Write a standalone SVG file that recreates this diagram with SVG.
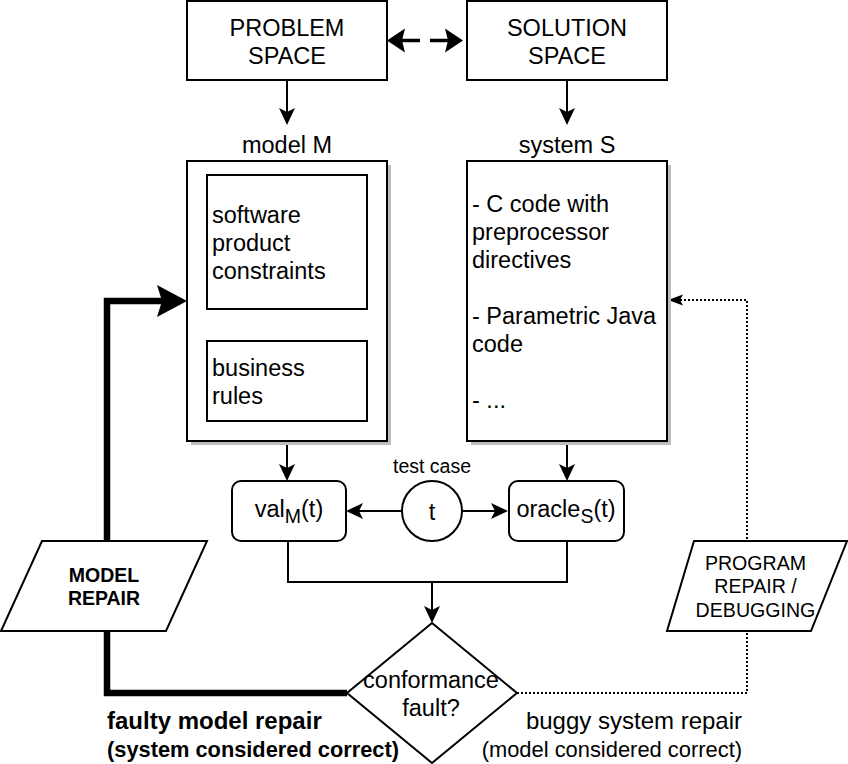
<svg xmlns="http://www.w3.org/2000/svg" width="848" height="764" viewBox="0 0 848 764">
<style>
  text { font-family: "Liberation Sans", Arial, sans-serif; fill: #000; }
  .t { font-size: 23.5px; }
  .box { fill: #fff; stroke: #000; stroke-width: 2; }
  .shadow { fill: #bdbdbd; stroke: none; }
  .ln { fill: none; stroke: #000; stroke-width: 2; }
</style>
<defs>
  <marker id="arr" markerUnits="userSpaceOnUse" orient="auto" refX="14" refY="0" markerWidth="20" markerHeight="20" overflow="visible">
    <path d="M0,-8 L17,0 L0,8 L4,0 Z" fill="#000"/>
  </marker>
  <marker id="arrBig" markerUnits="userSpaceOnUse" orient="auto-start-reverse" refX="3" refY="0" markerWidth="20" markerHeight="26" overflow="visible">
    <path d="M0,-12 L18,0 L0,12 L3,0 Z" fill="#000"/>
  </marker>
  <marker id="arrThick" markerUnits="userSpaceOnUse" orient="auto" refX="24" refY="0" markerWidth="32" markerHeight="34" overflow="visible">
    <path d="M0,-16 L30,0 L0,16 L5,0 Z" fill="#000"/>
  </marker>
  <marker id="arrDot" markerUnits="userSpaceOnUse" orient="auto" refX="12" refY="0" markerWidth="16" markerHeight="12" overflow="visible">
    <path d="M0,-5.5 L15,0 L0,5.5 L3,0 Z" fill="#000"/>
  </marker>
</defs>

<g id="connectors">
  <line x1="402" y1="40.5" x2="448" y2="40.5" stroke="#000" stroke-width="3.5" stroke-dasharray="18 10" marker-start="url(#arrBig)" marker-end="url(#arrBig)"/>
  <line class="ln" x1="287" y1="80" x2="287" y2="122" marker-end="url(#arr)"/>
  <line class="ln" x1="567" y1="80" x2="567" y2="122" marker-end="url(#arr)"/>
  <line class="ln" x1="287" y1="441" x2="287" y2="478" marker-end="url(#arr)"/>
  <line class="ln" x1="567" y1="441" x2="567" y2="478" marker-end="url(#arr)"/>
  <line class="ln" x1="402" y1="511" x2="349" y2="511" marker-end="url(#arr)"/>
  <line class="ln" x1="462" y1="511" x2="505" y2="511" marker-end="url(#arr)"/>
  <path class="ln" d="M288,541 V582 H567 V541"/>
  <line class="ln" x1="432" y1="582" x2="432" y2="620" marker-end="url(#arr)"/>
  <path d="M347,693 H107 V301 H181" fill="none" stroke="#000" stroke-width="6.5" marker-end="url(#arrThick)"/>
  <path d="M517,693 H747 V300 H671" fill="none" stroke="#000" stroke-width="2" stroke-dasharray="2 2" marker-end="url(#arrDot)"/>
</g>

<g id="problem-space">
  <rect class="box" x="187" y="1" width="200" height="79"/>
  <text class="t" text-anchor="middle" x="287" y="36">PROBLEM</text>
  <text class="t" text-anchor="middle" x="287" y="64">SPACE</text>
</g>
<g id="solution-space">
  <rect class="box" x="467" y="1" width="200" height="79"/>
  <text class="t" text-anchor="middle" x="567" y="36">SOLUTION</text>
  <text class="t" text-anchor="middle" x="567" y="64">SPACE</text>
</g>

<g id="model-label"><text class="t" text-anchor="middle" x="287" y="153">model M</text></g>
<g id="system-label"><text class="t" text-anchor="middle" x="567" y="153">system S</text></g>

<g id="model-m">
  <rect class="shadow" x="191" y="165" width="200" height="280"/>
  <rect class="box" x="187" y="161" width="200" height="280"/>
</g>
<g id="software-constraints">
  <rect class="box" x="207" y="175" width="160" height="134"/>
  <text class="t" x="212" y="223">software</text>
  <text class="t" x="212" y="251">product</text>
  <text class="t" x="212" y="279">constraints</text>
</g>
<g id="business-rules">
  <rect class="box" x="207" y="341" width="160" height="80"/>
  <text class="t" x="212" y="376">business</text>
  <text class="t" x="212" y="404">rules</text>
</g>

<g id="system-s">
  <rect class="shadow" x="471" y="165" width="200" height="280"/>
  <rect class="box" x="467" y="161" width="200" height="280"/>
  <text class="t" x="472" y="212">- C code with</text>
  <text class="t" x="472" y="240">preprocessor</text>
  <text class="t" x="472" y="268">directives</text>
  <text class="t" x="472" y="324">- Parametric Java</text>
  <text class="t" x="472" y="352">code</text>
  <text class="t" x="472" y="408">- ...</text>
</g>

<g id="val-m">
  <rect class="box" x="232" y="481" width="114" height="60" rx="9" ry="9"/>
  <text class="t" text-anchor="middle" x="289" y="517">val<tspan font-size="19.5" dy="6">M</tspan><tspan dy="-6">(t)</tspan></text>
</g>

<g id="test-case">
  <text text-anchor="middle" x="432" y="473" font-size="19.5">test case</text>
  <circle class="box" cx="432" cy="511" r="30"/>
  <text class="t" text-anchor="middle" x="432" y="520">t</text>
</g>

<g id="oracle-s">
  <rect class="box" x="509" y="481" width="115" height="60" rx="9" ry="9"/>
  <text class="t" text-anchor="middle" x="566" y="517">oracle<tspan font-size="19.5" dy="6">S</tspan><tspan dy="-6">(t)</tspan></text>
</g>

<g id="conformance-fault">
  <polygon class="box" points="432,623 517,693 432,763 347,693"/>
  <text class="t" text-anchor="middle" x="431" y="688">conformance</text>
  <text class="t" text-anchor="middle" x="431" y="716">fault?</text>
</g>

<g id="model-repair">
  <polygon class="box" points="42,541 207,541 166,631 1,631"/>
  <text text-anchor="middle" x="104" y="582" font-size="19.5" font-weight="bold">MODEL</text>
  <text text-anchor="middle" x="104" y="605" font-size="19.5" font-weight="bold">REPAIR</text>
</g>

<g id="program-repair">
  <polygon class="box" points="694,541 847,541 811,631 667,631"/>
  <text text-anchor="middle" x="755.5" y="570" font-size="19.6">PROGRAM</text>
  <text text-anchor="middle" x="755.5" y="593" font-size="19.6">REPAIR /</text>
  <text text-anchor="middle" x="755.5" y="617" font-size="19.6">DEBUGGING</text>
</g>

<g id="faulty-model-repair-label">
  <text x="107" y="729" font-size="24" font-weight="bold">faulty model repair</text>
  <text x="107" y="757" font-size="21.8" font-weight="bold">(system considered correct)</text>
</g>
<g id="buggy-system-repair-label">
  <text text-anchor="end" x="742" y="729" font-size="24">buggy system repair</text>
  <text text-anchor="end" x="742" y="757" font-size="21.9">(model considered correct)</text>
</g>
</svg>
